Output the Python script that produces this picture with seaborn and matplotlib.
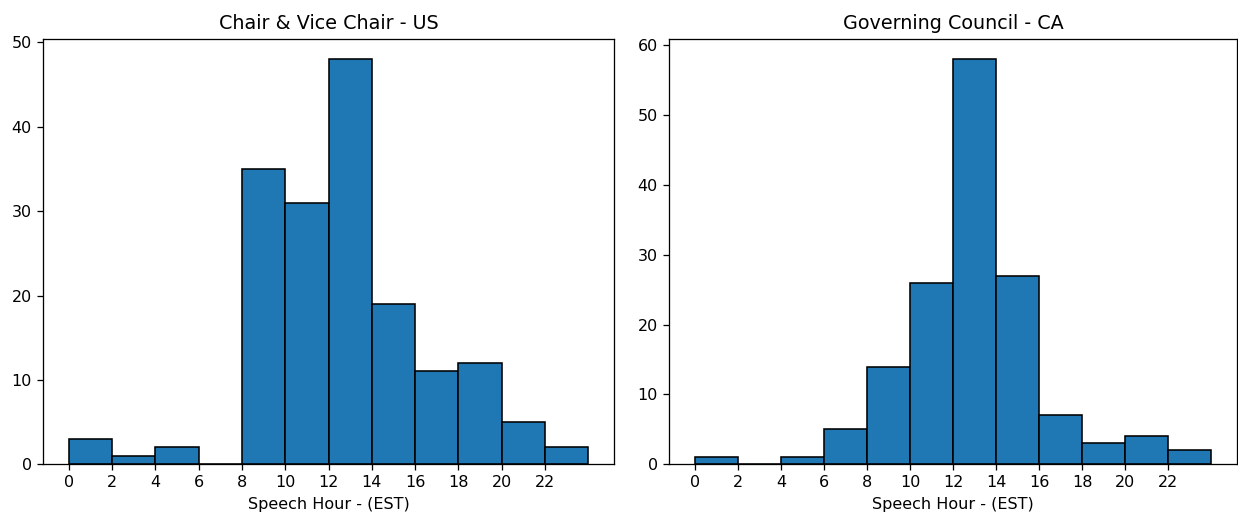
import matplotlib
matplotlib.use("Agg")
import matplotlib.pyplot as plt
import seaborn as sns
import numpy as np

# Speech counts per two-hour bin (EST)
bin_edges = list(range(0, 26, 2))
bin_starts = bin_edges[:-1]
us_counts = [3, 1, 2, 0, 35, 31, 48, 19, 11, 12, 5, 2]
ca_counts = [1, 0, 1, 5, 14, 26, 58, 27, 7, 3, 4, 2]
titles = ["Chair & Vice Chair - US", "Governing Council - CA"]
xlabel = "Speech Hour - (EST)"
xticks = list(range(0, 24, 2))

S = 1.15
plt.rcParams.update({
    "axes.linewidth": 0.8 * S,
    "xtick.major.size": 3.5 * S,
    "ytick.major.size": 3.5 * S,
    "xtick.major.width": 0.8 * S,
    "ytick.major.width": 0.8 * S,
    "xtick.major.pad": 3.5 * S,
    "ytick.major.pad": 3.5 * S,
    "axes.titlepad": 6.0 * S,
    "axes.labelpad": 4.0 * S,
})

W, H = 1238, 512
fig = plt.figure(figsize=(W / 100, H / 100), dpi=100)

boxes = [(43, 614), (669, 1237)]
top, bottom = 39, 464.3

for (x0, x1), counts, title in zip(boxes, [us_counts, ca_counts], titles):
    ax = fig.add_axes([x0 / W, (H - bottom) / H, (x1 - x0) / W, (bottom - top) / H])
    sns.histplot(x=bin_starts, weights=counts, bins=bin_edges, ax=ax,
                 color="#1f77b4", edgecolor="black", linewidth=1.0 * S, alpha=1.0)
    ax.set_xticks(xticks)
    ax.set_title(title, fontsize=12 * S)
    ax.set_xlabel(xlabel, fontsize=10 * S)
    ax.set_ylabel("")
    ax.tick_params(labelsize=10 * S)

fig.savefig("out.png", dpi=100)
